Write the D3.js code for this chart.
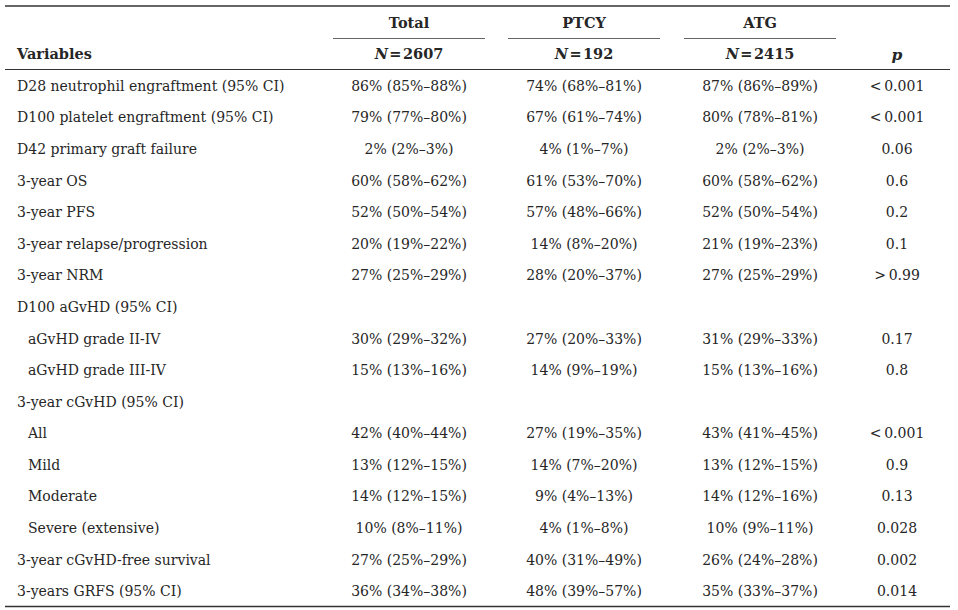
<!DOCTYPE html>
<html>
<head>
<meta charset="utf-8">
<script src="https://cdn.jsdelivr.net/npm/d3@7"></script>
<style>
  body { margin: 0; background: #fff; }
  svg text { font-family: "DejaVu Serif", "Liberation Serif", serif; fill: #262626; }
</style>
</head>
<body>
<div id="chart"></div>
<script>
// table content
const variables = [
  "D28 neutrophil engraftment (95% CI)",
  "D100 platelet engraftment (95% CI)",
  "D42 primary graft failure",
  "3-year OS",
  "3-year PFS",
  "3-year relapse/progression",
  "3-year NRM",
  "D100 aGvHD (95% CI)",
  "aGvHD grade II-IV",
  "aGvHD grade III-IV",
  "3-year cGvHD (95% CI)",
  "All",
  "Mild",
  "Moderate",
  "Severe (extensive)",
  "3-year cGvHD-free survival",
  "3-years GRFS (95% CI)"
];
// sub rows are indented
const indented = [false, false, false, false, false, false, false, false, true, true, false, true, true, true, true, false, false];

const totalVals = ["86% (85%\u201388%)", "79% (77%\u201380%)", "2% (2%\u20133%)", "60% (58%\u201362%)", "52% (50%\u201354%)", "20% (19%\u201322%)", "27% (25%\u201329%)", "", "30% (29%\u201332%)", "15% (13%\u201316%)", "", "42% (40%\u201344%)", "13% (12%\u201315%)", "14% (12%\u201315%)", "10% (8%\u201311%)", "27% (25%\u201329%)", "36% (34%\u201338%)"];
const ptcyVals = ["74% (68%\u201381%)", "67% (61%\u201374%)", "4% (1%\u20137%)", "61% (53%\u201370%)", "57% (48%\u201366%)", "14% (8%\u201320%)", "28% (20%\u201337%)", "", "27% (20%\u201333%)", "14% (9%\u201319%)", "", "27% (19%\u201335%)", "14% (7%\u201320%)", "9% (4%\u201313%)", "4% (1%\u20138%)", "40% (31%\u201349%)", "48% (39%\u201357%)"];
const atgVals = ["87% (86%\u201389%)", "80% (78%\u201381%)", "2% (2%\u20133%)", "60% (58%\u201362%)", "52% (50%\u201354%)", "21% (19%\u201323%)", "27% (25%\u201329%)", "", "31% (29%\u201333%)", "15% (13%\u201316%)", "", "43% (41%\u201345%)", "13% (12%\u201315%)", "14% (12%\u201316%)", "10% (9%\u201311%)", "26% (24%\u201328%)", "35% (33%\u201337%)"];
const pVals = ["<\u20090.001", "<\u20090.001", "0.06", "0.6", "0.2", "0.1", ">\u20090.99", "", "0.17", "0.8", "", "<\u20090.001", "0.9", "0.13", "0.028", "0.002", "0.014"];

const groups = ["Total", "PTCY", "ATG"];
const groupN = ["2607", "192", "2415"];

const width = 958;
const height = 610;

const svg = d3.select("#chart")
  .append("svg")
  .attr("width", width)
  .attr("height", height);

// column centres
const cols = ["Total", "PTCY", "ATG", "p"];
const colX = d3.scaleOrdinal()
  .domain(cols)
  .range([409, 584, 760, 897]);

const rowScale = d3.scaleBand()
  .domain(d3.range(variables.length))
  .range([70, 607])
  .paddingInner(0);

const fontSize = 14;

// rules
const rules = [
  { y: 6, x1: 5, x2: 950, w: 1.4 },
  { y: 69.5, x1: 5, x2: 950, w: 1 },
  { y: 606.5, x1: 5, x2: 950, w: 1.4 }
];
svg.selectAll("line.rule")
  .data(rules)
  .enter()
  .append("line")
  .attr("class", "rule")
  .attr("x1", d => d.x1)
  .attr("x2", d => d.x2)
  .attr("y1", d => d.y)
  .attr("y2", d => d.y)
  .attr("stroke", "#333")
  .attr("stroke-width", d => d.w);

// group header
svg.selectAll("text.group")
  .data(groups)
  .enter()
  .append("text")
  .attr("class", "group")
  .attr("x", d => colX(d))
  .attr("y", 28)
  .attr("text-anchor", "middle")
  .attr("font-size", fontSize + 0.5)
  .attr("font-weight", "bold")
  .text(d => d);

svg.selectAll("line.under")
  .data(groups)
  .enter()
  .append("line")
  .attr("class", "under")
  .attr("x1", d => colX(d) - 76)
  .attr("x2", d => colX(d) + 76)
  .attr("y1", 38.5)
  .attr("y2", 38.5)
  .attr("stroke", "#666")
  .attr("stroke-width", 1);

const nText = svg.selectAll("text.n")
  .data(groupN)
  .enter()
  .append("text")
  .attr("class", "n")
  .attr("x", (d, i) => colX(groups[i]))
  .attr("y", 59)
  .attr("text-anchor", "middle")
  .attr("font-size", fontSize + 0.5)
  .attr("font-weight", "bold");
nText.append("tspan").attr("font-style", "italic").text("N");
nText.append("tspan").text(d => "\u200a=\u200a" + d);

svg.append("text")
  .attr("x", 17)
  .attr("y", 59)
  .attr("font-size", fontSize + 0.5)
  .attr("font-weight", "bold")
  .text("Variables");

svg.append("text")
  .attr("x", colX("p"))
  .attr("y", 60)
  .attr("text-anchor", "middle")
  .attr("font-size", fontSize + 1.5)
  .attr("font-weight", "bold")
  .attr("font-style", "italic")
  .text("p");

// body rows
const rows = svg.selectAll("g.row")
  .data(variables)
  .enter()
  .append("g")
  .attr("class", "row")
  .attr("transform", (d, i) => `translate(0,${rowScale(i) + rowScale.bandwidth() / 2 + 5})`);

rows.append("text")
  .attr("x", (d, i) => indented[i] ? 28 : 17)
  .attr("font-size", fontSize)
  .text(d => d);

const valueCols = [totalVals, ptcyVals, atgVals, pVals];
valueCols.forEach(function (vals, ci) {
  rows.append("text")
    .attr("x", colX(cols[ci]))
    .attr("text-anchor", "middle")
    .attr("font-size", fontSize)
    .text((d, i) => vals[i]);
});
</script>
</body>
</html>
